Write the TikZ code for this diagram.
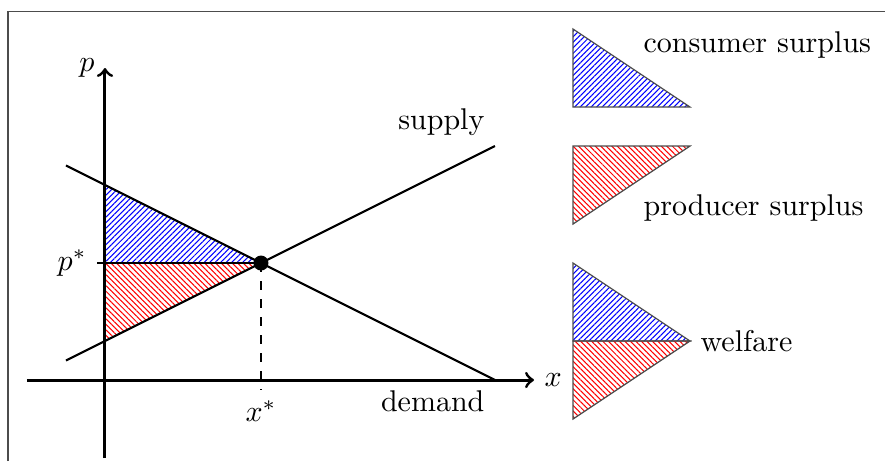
\documentclass[tikz,border=0pt]{standalone}
\usetikzlibrary{patterns.meta}
\begin{document}
\begin{tikzpicture}[x=13pt,y=13pt,
  axis/.style={line width=1pt,->},
  curve/.style={line width=0.7pt},
  cs/.style={pattern={Lines[angle=45,distance=1.3pt,line width=0.35pt]},pattern color=blue},
  ps/.style={pattern={Lines[angle=-45,distance=1.3pt,line width=0.35pt]},pattern color=red},
  legend/.style={draw=black!70,line width=0.4pt}]
\useasboundingbox (-2.692,-2.077) rectangle (20,9.744);
\draw[black!70,line width=0.45pt] (-2.487,-2.077) -- (-2.487,9.449) -- (20,9.449);
% coordinates
\coordinate (xs) at (-2,0);
\coordinate (xe) at (11,0);
\coordinate (pb) at (0,-2);
\coordinate (pe) at (0,8);
\coordinate (E) at (4,3);
\coordinate (D0) at (0,5);
\coordinate (S0) at (0,1);
\coordinate (P) at (0,3);
\coordinate (tick) at (-0.2,3);
\coordinate (xb) at (4,-0.25);
\coordinate (d1) at (-1,5.5);
\coordinate (d2) at (10,0);
\coordinate (s1) at (-1,0.5);
\coordinate (s2) at (10,6);
% surplus areas
\fill[cs] (D0) -- (P) -- (E) -- cycle;
\fill[ps] (P) -- (E) -- (S0) -- cycle;
\draw[line width=0.4pt] (tick) -- (E);
\draw[dashed,line width=0.4pt] (E) -- (xb);
% axes
\draw[axis] (xs) -- (xe);
\draw[axis] (pb) -- (pe);
\node[right] (xl) at (xe) {$x$};
\node[left] (pl) at (pe) {$p$};
% curves
\draw[curve] (d1) -- (d2);
\draw[curve] (s1) -- (s2);
\node[above left] (sl) at (s2) {supply};
\node[below left] (dl) at (d2) {demand};
\fill (E) circle (2.5pt);
\node[left] (pstar) at (tick) {$p^*$};
\node[below] (xstar) at (xb) {$x^*$};
% legend
\draw[legend,cs] (12,9) coordinate (c1) -- (12,7) coordinate (c2) -- (15,7) coordinate (c3) -- cycle;
\node[anchor=base west] (cl) at (13.54,8.41) {consumer surplus};
\draw[legend,ps] (12,6) coordinate (r1) -- (15,6) coordinate (r2) -- (12,4) coordinate (r3) -- cycle;
\node[anchor=base west] (rl) at (13.54,4.23) {producer surplus};
\draw[legend,cs] (12,3) coordinate (w1) -- (12,1) coordinate (w2) -- (15,1) coordinate (w3) -- cycle;
\draw[legend,ps] (w2) -- (w3) -- (12,-1) coordinate (w4) -- cycle;
\node[right] (wl) at (w3) {welfare};
\end{tikzpicture}
\end{document}
